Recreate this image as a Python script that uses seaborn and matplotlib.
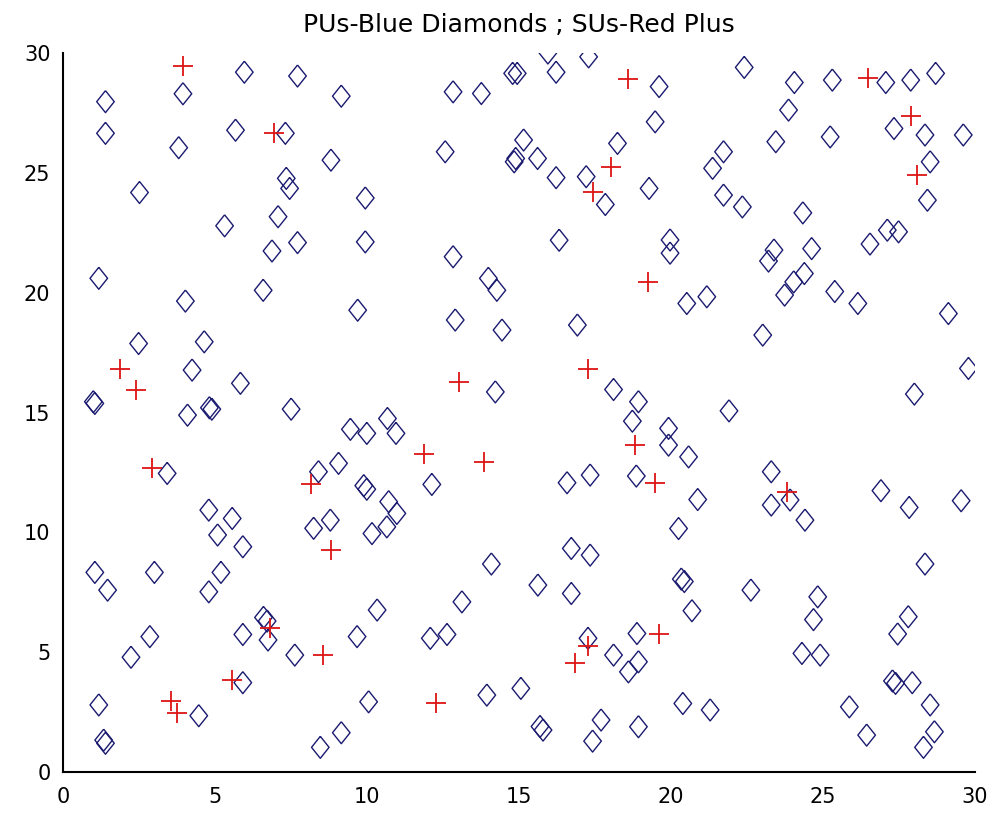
import numpy as np
import matplotlib
matplotlib.use('Agg')
import matplotlib.pyplot as plt
import seaborn as sns

# PUs (blue diamonds)
pu_x = [5.97, 7.72, 9.16, 1.40, 3.95, 1.40, 5.68, 7.32, 3.81, 8.82, 7.35, 7.46, 2.52, 9.95, 5.32, 7.08,
        7.72, 6.88, 9.95, 1.18, 4.03, 6.59, 9.70,
        15.96, 17.30, 14.80, 14.95, 16.23, 19.62, 12.84, 13.77, 19.49, 18.25, 15.16, 14.90, 14.85, 12.58,
        15.62, 16.23, 17.22, 17.85, 19.29, 16.33, 12.84, 19.98, 19.98, 14.00, 14.28,
        22.42, 24.07, 25.32, 27.08, 27.90, 28.72, 23.88, 27.35, 28.37, 29.63, 23.46, 25.25, 28.54, 28.45,
        21.74, 21.38, 21.74, 22.36, 24.35, 27.13, 27.50, 26.56, 24.64, 23.40, 23.22, 24.40, 24.05, 23.75,
        25.40, 26.16, 21.19, 20.53, 29.14,
        2.49, 4.65, 4.25, 5.84, 1.00, 1.05, 4.82, 4.90, 4.10, 7.51, 9.46, 10.00, 3.43, 8.41, 9.07, 9.90,
        10.00, 4.80, 5.57, 5.09, 5.92, 8.80, 8.25,
        12.91, 14.45, 16.93, 14.23, 18.12, 18.94, 18.74, 19.93, 19.93, 20.59, 10.68, 10.96, 18.87, 12.14,
        16.59, 17.35, 10.72, 10.99, 10.66, 10.17, 16.73, 17.35, 14.10,
        23.03, 29.80, 28.02, 21.92, 23.31, 23.93, 23.31, 24.42, 20.89, 20.26, 26.92, 27.85, 29.56,
        1.05, 1.47, 3.01, 5.20, 4.80, 6.60, 6.72, 6.75, 5.92, 2.86, 2.24, 7.63, 9.68, 5.92, 1.18, 4.47,
        1.34, 1.40, 9.16, 8.47, 10.06,
        15.63, 16.73, 13.13, 10.34, 12.09, 12.64, 17.28, 18.12, 18.89, 18.94, 18.61, 13.95, 15.07, 15.70,
        15.80, 17.71, 17.43, 18.94,
        20.35, 20.45, 20.70, 22.64, 24.84, 24.70, 24.32, 24.92, 28.37, 27.82, 27.47, 27.30, 27.40, 27.95,
        28.54, 28.68, 28.32, 25.88, 26.45, 20.40, 21.30]
pu_y = [29.20, 29.04, 28.20, 27.97, 28.30, 26.65, 26.78, 26.65, 26.05, 25.53, 24.77, 24.35, 24.18, 23.95,
        22.79, 23.17, 22.09, 21.74, 22.12, 20.60, 19.65, 20.10, 19.27,
        30.00, 29.84, 29.15, 29.15, 29.20, 28.60, 28.38, 28.31, 27.13, 26.23, 26.37, 25.60, 25.46, 25.88,
        25.60, 24.80, 24.84, 23.68, 24.35, 22.19, 21.50, 22.20, 21.65, 20.60, 20.10,
        29.40, 28.77, 28.87, 28.77, 28.87, 29.15, 27.62, 26.85, 26.58, 26.58, 26.30, 26.50, 25.46, 23.86,
        25.88, 25.19, 24.07, 23.58, 23.33, 22.61, 22.54, 22.03, 21.84, 21.78, 21.32, 20.80, 20.45, 19.90,
        20.05, 19.55, 19.83, 19.55, 19.13,
        17.88, 17.95, 16.77, 16.22, 15.45, 15.38, 15.20, 15.14, 14.89, 15.14, 14.30, 14.13, 12.46, 12.53,
        12.88, 11.95, 11.80, 10.93, 10.58, 9.89, 9.40, 10.51, 10.17,
        18.86, 18.44, 18.65, 15.86, 15.96, 15.45, 14.64, 14.34, 13.64, 13.15, 14.75, 14.13, 12.35, 12.00,
        12.07, 12.39, 11.28, 10.79, 10.23, 9.95, 9.33, 9.05, 8.68,
        18.23, 16.84, 15.77, 15.07, 12.53, 11.35, 11.14, 10.51, 11.37, 10.16, 11.74, 11.04, 11.32,
        8.33, 7.59, 8.33, 8.33, 7.52, 6.45, 6.30, 5.51, 5.74, 5.65, 4.79, 4.88, 5.65, 3.73, 2.80, 2.35,
        1.33, 1.20, 1.64, 1.03, 2.93,
        7.80, 7.45, 7.10, 6.76, 5.58, 5.74, 5.58, 4.88, 5.78, 4.60, 4.18, 3.21, 3.49, 1.90,
        1.75, 2.17, 1.29, 1.89,
        8.05, 7.95, 6.73, 7.59, 7.31, 6.36, 4.95, 4.88, 8.68, 6.48, 5.76, 3.80, 3.70, 3.73,
        2.80, 1.68, 1.03, 2.72, 1.54, 2.86, 2.59]

# SUs (red plus)
su_x = [3.95, 6.93, 18.59, 18.04, 17.43, 19.27, 26.51, 27.90, 28.10, 1.89, 2.42, 2.93, 8.17, 8.82, 17.28,
        13.05, 18.81, 19.49, 11.87, 13.87, 23.82, 6.83, 8.55, 5.57, 3.57, 3.76, 17.28, 16.86, 19.62, 12.29]
su_y = [29.45, 26.65, 28.93, 25.25, 24.21, 20.45, 28.94, 27.37, 24.90, 16.81, 15.94, 12.67, 12.00, 9.26, 16.81,
        16.28, 13.64, 12.04, 13.25, 12.94, 11.69, 5.99, 4.88, 3.84, 2.96, 2.45, 5.26, 4.53, 5.74, 2.87]

ticks = [0, 5, 10, 15, 20, 25, 30]
navy = '#1a1a70'
red = '#dd1515'


def main():
    sns.set_style('white')
    plt.rcParams['font.family'] = ['DejaVu Sans']

    fig = plt.figure(figsize=(9.99, 8.13), dpi=100)
    ax = fig.add_axes([0.063, 0.0504, 0.9125, 0.8844])

    diamond = [(0, 1), (0.8, 0), (0, -1), (-0.8, 0), (0, 1)]
    sns.scatterplot(x=pu_x, y=pu_y, marker=diamond, s=250, color=navy, linewidth=1.0, ax=ax)
    pts = ax.collections[-1]
    pts.set_facecolor('none')
    pts.set_edgecolor(navy)

    sns.scatterplot(x=su_x, y=su_y, marker='+', s=190, color=red, linewidth=1.3, ax=ax)

    ax.set_xlim(0, 30)
    ax.set_ylim(0, 30)
    ax.set_xticks(ticks)
    ax.set_yticks(ticks)
    ax.tick_params(direction='in', length=6, width=1.3, labelsize=15, colors='black')
    ax.tick_params(axis='y', pad=9)
    ax.tick_params(axis='x', pad=11)

    sns.despine(ax=ax)
    for side in ['left', 'bottom']:
        ax.spines[side].set_linewidth(1.5)
        ax.spines[side].set_color('black')

    ax.set_title('PUs-Blue Diamonds ; SUs-Red Plus', fontsize=18, color='black', pad=15)

    fig.savefig('out.png', dpi=100)


if __name__ == '__main__':
    main()
